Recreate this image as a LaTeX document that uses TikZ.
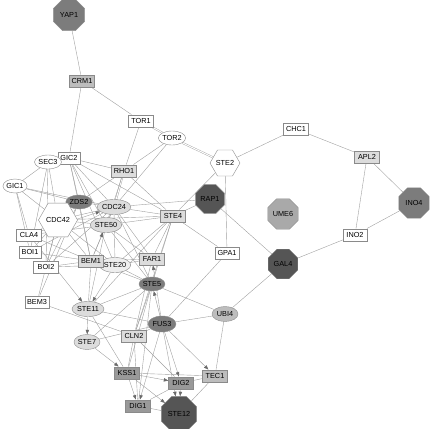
\documentclass[tikz,border=0pt]{standalone}
\usepackage{fontspec}
\setmainfont{Liberation Sans}
\usetikzlibrary{shapes.geometric,arrows.meta,backgrounds}
\definecolor{cdark}{HTML}{555555}
\definecolor{cmed}{HTML}{7C7C7C}
\definecolor{cmid}{HTML}{999999}
\definecolor{cume}{HTML}{A9A9A9}
\definecolor{cgray}{HTML}{BDBDBD}
\definecolor{clight}{HTML}{DCDCDC}
\definecolor{cpale}{HTML}{EEEEEE}
\definecolor{bordergray}{HTML}{8A8A8A}
\definecolor{edgegray}{HTML}{A0A0A0}
\definecolor{arrowgray}{HTML}{6A6A6A}
\begin{document}
\begin{tikzpicture}[x=1pt,y=-1pt,
  every node/.style={font=\fontsize{7.3}{8}\selectfont, draw=bordergray, line width=0.4pt, inner sep=0pt, fill=white},
  rbox/.style={rectangle, minimum width=25pt, minimum height=12.5pt},
  ell/.style={ellipse, minimum width=28pt, minimum height=14pt},
  oct/.style={regular polygon, regular polygon sides=8, minimum size=34pt},
  hexa/.style={regular polygon, regular polygon sides=6, minimum size=30pt},
  lnk/.style={draw=edgegray, line width=0.4pt},
  arr/.style={lnk, -{Triangle[length=4.5pt,width=3.4pt,color=arrowgray]}},
  dbl/.style={draw=edgegray, line width=0.4pt, double=white, double distance=1pt}
]
\useasboundingbox (0,0) rectangle (432,429);

% nodes
\node[oct, fill=cmed] (YAP1) at (69,15) {YAP1};
\node[rbox, fill=cgray] (CRM1) at (82,81) {CRM1};
\node[rbox] (TOR1) at (141,121) {TOR1};
\node[ell, minimum width=26pt] (TOR2) at (172,138) {TOR2};
\node[hexa] (STE2) at (225,163) {STE2};
\node[rbox] (CHC1) at (296,129) {CHC1};
\node[rbox, fill=clight] (APL2) at (367,157) {APL2};
\node[oct, fill=cmed, minimum size=33pt] (INO4) at (414,203) {INO4};
\node[oct, fill=cume, minimum size=33pt] (UME6) at (283,214) {UME6};
\node[oct, fill=cdark, minimum size=31pt] (RAP1) at (210,199) {RAP1};
\node[rbox, minimum width=24pt] (GPA1) at (227,253) {GPA1};
\node[oct, fill=cdark, minimum size=32pt] (GAL4) at (283,264) {GAL4};
\node[rbox, minimum width=24pt] (INO2) at (355,235) {INO2};
\node[ell, fill=cgray, minimum width=26pt, minimum height=15pt] (UBI4) at (225,314) {UBI4};
\node[rbox, fill=cgray] (TEC1) at (215,376) {TEC1};
\node[rbox, minimum width=22pt] (GIC2) at (69,158) {GIC2};
\node[ell, minimum width=24pt] (SEC3) at (48,162) {SEC3};
\node[ell, minimum width=24pt] (GIC1) at (15,186) {GIC1};
\node[rbox, fill=clight] (RHO1) at (124,171) {RHO1};
\node[ell, fill=cmed, minimum width=25pt] (ZDS2) at (79,202) {ZDS2};
\node[hexa, minimum size=34pt] (CDC42) at (58,220) {CDC42};
\node[ell, fill=clight, minimum width=30pt, minimum height=15pt] (CDC24) at (114,207) {CDC24};
\node[ell, fill=clight, minimum width=30pt, minimum height=15pt] (STE50) at (106,225) {STE50};
\node[rbox, fill=clight] (STE4) at (173,216) {STE4};
\node[rbox] (CLA4) at (29,235) {CLA4};
\node[rbox, minimum width=22pt] (BOI1) at (30,252) {BOI1};
\node[rbox] (BOI2) at (46,267) {BOI2};
\node[ell, fill=cpale, minimum height=15pt] (STE20) at (115,265) {STE20};
\node[rbox, fill=clight] (BEM1) at (91,261) {BEM1};
\node[rbox, fill=clight] (FAR1) at (152,259) {FAR1};
\node[ell, fill=cmed, minimum width=26pt] (STE5) at (152,284) {STE5};
\node[rbox, minimum width=24pt] (BEM3) at (37,302) {BEM3};
\node[ell, fill=clight, minimum width=32pt, minimum height=15pt] (STE11) at (88,309) {STE11};
\node[ell, fill=cmed, minimum width=28pt, minimum height=16pt] (FUS3) at (162,324) {FUS3};
\node[rbox, fill=clight] (CLN2) at (134,336) {CLN2};
\node[ell, fill=clight, minimum width=26pt, minimum height=15pt] (STE7) at (87,342) {STE7};
\node[rbox, fill=cmid] (KSS1) at (127,373) {KSS1};
\node[rbox, fill=cmid] (DIG2) at (181,383) {DIG2};
\node[rbox, fill=cmid] (DIG1) at (138,406) {DIG1};
\node[oct, fill=cdark, minimum size=38pt] (STE12) at (179,414) {STE12};

\begin{scope}[on background layer]
% top and right part
\draw[lnk] (YAP1) -- (CRM1);
\draw[lnk] (CRM1) -- (TOR1);
\draw[lnk] (CRM1) -- (GIC2);
\draw[dbl] (TOR1) -- (TOR2);
\draw[dbl] (TOR2) -- (STE2);
\draw[lnk] (TOR1) -- (RHO1);
\draw[lnk] (TOR2) -- (RHO1);
\draw[lnk] (TOR2) -- (CDC24);
\draw[lnk] (STE2) -- (CHC1);
\draw[lnk] (CHC1) -- (APL2);
\draw[lnk] (APL2) -- (INO4);
\draw[lnk] (APL2) -- (INO2);
\draw[lnk] (INO2) -- (INO4);
\draw[lnk] (INO2) -- (GAL4);
\draw[lnk] (GAL4) -- (RAP1);
\draw[lnk] (GAL4) -- (UBI4);
\draw[lnk] (STE2) -- (GPA1);
\draw[lnk] (STE2) -- (STE4);
\draw[lnk] (GPA1) -- (STE4);
\draw[lnk] (GPA1) -- (FUS3);
\draw[lnk] (RAP1) -- (CDC24);
\draw[lnk] (RAP1) -- (STE4);
% RHO1 and CDC24
\draw[lnk] (RHO1) -- (GIC2);
\draw[dbl] (RHO1) -- (CDC24);
\draw[lnk] (RHO1) -- (ZDS2);
\draw[lnk] (RHO1) -- (STE4);
\draw[lnk] (RHO1) -- (STE50);
\draw[lnk] (CDC24) -- (STE4);
\draw[lnk] (CDC24) -- (STE50);
\draw[lnk] (CDC24) -- (BEM1);
\draw[lnk] (CDC24) -- (CDC42);
\draw[lnk] (CDC24) -- (GIC1);
\draw[lnk] (CDC24) -- (FAR1);
\draw[lnk] (CDC24) -- (STE5);
\draw[lnk] (CDC24) -- (STE20);
\draw[lnk] (CDC24) -- (ZDS2);
\draw[arr] (CLA4) -- (CDC24);
% left cluster
\draw[lnk] (GIC1) -- (SEC3);
\draw[lnk] (GIC1) -- (CDC42);
\draw[lnk] (GIC1) -- (ZDS2);
\draw[lnk] (GIC1) -- (CLA4);
\draw[lnk] (GIC1) -- (BOI1);
\draw[lnk] (SEC3) -- (CDC42);
\draw[lnk] (SEC3) -- (BOI1);
\draw[lnk] (SEC3) -- (BOI2);
\draw[lnk] (GIC2) -- (ZDS2);
\draw[lnk] (GIC2) -- (CDC24);
\draw[lnk] (GIC2) -- (STE50);
\draw[lnk] (GIC2) -- (BEM1);
\draw[lnk] (GIC2) -- (STE20);
\draw[lnk] (GIC2) -- (STE4);
\draw[lnk] (CDC42) -- (STE50);
\draw[lnk] (CDC42) -- (BEM1);
\draw[lnk] (CDC42) -- (STE20);
\draw[lnk] (CDC42) -- (CLA4);
\draw[lnk] (CDC42) -- (BOI1);
\draw[lnk] (CDC42) -- (BOI2);
\draw[lnk] (CDC42) -- (BEM3);
\draw[lnk] (CDC42) -- (STE4);
\draw[lnk] (ZDS2) -- (BEM1);
\draw[lnk] (ZDS2) -- (BOI2);
\draw[lnk] (CLA4) -- (BEM1);
\draw[lnk] (CLA4) -- (STE50);
\draw[lnk] (BOI1) -- (BEM1);
\draw[lnk] (BOI1) -- (CDC24);
\draw[lnk] (BOI2) -- (BEM1);
\draw[lnk] (BOI2) -- (STE20);
\draw[lnk] (BOI2) -- (CDC24);
\draw[lnk] (BEM3) -- (CLN2);
\draw[lnk] (BEM3) -- (ZDS2);
\draw[lnk] (BEM1) -- (STE20);
\draw[lnk] (BEM1) -- (FAR1);
\draw[lnk] (BEM1) -- (STE5);
\draw[lnk] (BEM1) -- (STE11);
\draw[arr] (BEM1) -- (STE50);
\draw[lnk] (STE11) -- (STE50);
\draw[lnk] (STE20) -- (STE4);
\draw[lnk] (STE20) -- (FAR1);
\draw[arr] (STE20) -- (STE11);
\draw[arr] (CLA4) -- (STE11);
\draw[lnk] (STE50) -- (STE4);
\draw[lnk] (STE50) -- (FAR1);
\draw[lnk] (STE50) -- (STE5);
% pheromone module
\draw[lnk] (FAR1) -- (STE4);
\draw[lnk] (STE4) -- (STE5);
\draw[lnk] (STE4) -- (CLN2);
\draw[lnk] (STE4) -- (STE11);
\draw[arr] (FUS3) -- (FAR1);
\draw[arr] (FUS3) -- (STE5);
\draw[lnk] (STE5) -- (STE11);
\draw[lnk] (STE5) -- (STE7);
\draw[lnk] (STE5) -- (CLN2);
\draw[lnk] (STE5) -- (KSS1);
\draw[lnk] (STE5) -- (UBI4);
\draw[lnk] (STE5) -- (STE20);
\draw[lnk] (STE5) -- (DIG1);
\draw[arr] (STE11) -- (STE7);
\draw[lnk] (STE11) -- (FUS3);
\draw[lnk] (STE11) -- (KSS1);
\draw[arr] (STE7) -- (KSS1);
\draw[lnk] (STE7) -- (FUS3);
\draw[lnk] (FUS3) -- (CLN2);
\draw[lnk] (FUS3) -- (UBI4);
\draw[arr] (FUS3) -- (DIG1);
\draw[arr] (FUS3) -- (DIG2);
\draw[arr] (FUS3) -- (STE12);
\draw[arr] (FUS3) -- (TEC1);
\draw[lnk] (CLN2) -- (KSS1);
\draw[lnk] (CLN2) -- (DIG1);
\draw[lnk] (CLN2) -- (DIG2);
\draw[lnk] (CLN2) -- (FAR1);
\draw[arr] (KSS1) -- (DIG2);
\draw[arr] (KSS1) -- (DIG1);
\draw[arr] (KSS1) -- (STE12);
\draw[lnk] (KSS1) -- (TEC1);
\draw[lnk] (DIG1) -- (STE12);
\draw[arr] (DIG2) -- (STE12);
\draw[lnk] (DIG1) -- (DIG2);
\draw[lnk] (TEC1) -- (STE12);
\draw[lnk] (TEC1) -- (DIG2);
\draw[lnk] (UBI4) -- (TEC1);
\end{scope}
\end{tikzpicture}
\end{document}
